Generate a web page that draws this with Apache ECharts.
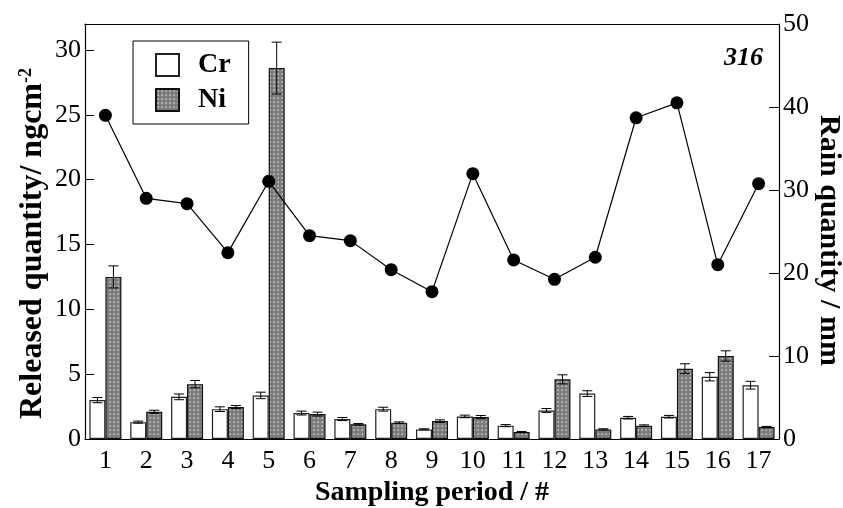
<!DOCTYPE html>
<html>
<head>
<meta charset="utf-8">
<script src="https://cdn.jsdelivr.net/npm/echarts@6/dist/echarts.min.js"></script>
<style>html,body{margin:0;padding:0;background:#fff}#c{width:843px;height:508px}</style>
</head>
<body>
<div id="c"></div>
<script>
const categories = ['1','2','3','4','5','6','7','8','9','10','11','12','13','14','15','16','17'];
const crValues = [3.0,1.3,3.25,2.3,3.36,2.0,1.54,2.3,0.74,1.74,1.03,2.2,3.5,1.64,1.72,4.8,4.15];
const crErrors = [0.2,0.08,0.22,0.18,0.25,0.15,0.12,0.15,0.05,0.1,0.08,0.15,0.22,0.1,0.1,0.32,0.3];
const niValues = [12.5,2.1,4.23,2.46,28.6,1.92,1.13,1.26,1.38,1.69,0.54,4.6,0.74,1.03,5.42,6.4,0.92];
const niErrors = [0.85,0.12,0.28,0.12,2.0,0.15,0.06,0.06,0.1,0.12,0.04,0.35,0.05,0.06,0.38,0.4,0.05];
const rainValues = [39.0,29.0,28.35,22.45,31.05,24.5,23.9,20.4,17.75,31.97,21.57,19.24,21.9,38.7,40.5,21.0,30.76];
const leftTicks = {min:0, max:32, interval:5};
const rightTicks = {min:0, max:50, interval:10};

const FONT = '"Liberation Serif", "Times New Roman", serif';
const BAR_W = 16;

function makePattern(){
  const c = document.createElement('canvas');
  c.width = 4; c.height = 4;
  const g = c.getContext('2d');
  g.fillStyle = '#7c7c7c'; g.fillRect(0,0,4,4);
  g.fillStyle = '#b4b4b4'; g.fillRect(1,1,2,2);
  g.fillStyle = '#8a8a8a'; g.fillRect(1,1,1,1);
  return c;
}
const niFill = {image: makePattern(), repeat: 'repeat'};

function errSeries(values, errors, side){
  return {
    type: 'custom',
    xAxisIndex: 0, yAxisIndex: 0,
    z: 5,
    silent: true,
    data: values.map((v,i)=>[i, v, errors[i]]),
    renderItem: function(params, api){
      const i = api.value(0), v = api.value(1), e = api.value(2);
      const off = side * BAR_W/2;
      const top = api.coord([i, v+e]);
      const bot = api.coord([i, v-e]);
      const x = top[0] + off;
      const cap = 5;
      const st = {stroke:'#000', lineWidth:1};
      return {type:'group', children:[
        {type:'line', shape:{x1:x,y1:top[1],x2:x,y2:bot[1]}, style:st},
        {type:'line', shape:{x1:x-cap,y1:top[1],x2:x+cap,y2:top[1]}, style:st},
        {type:'line', shape:{x1:x-cap,y1:bot[1],x2:x+cap,y2:bot[1]}, style:st}
      ]};
    }
  };
}

const chart = echarts.init(document.getElementById('c'), null, {renderer:'canvas'});
chart.setOption({
  animation: false,
  backgroundColor: '#fff',
  textStyle: {fontFamily: FONT},
  grid: {left:85, right:64, top:24, bottom:69, containLabel:false, outerBoundsMode:'none'},
  legend: {
    data: ['Cr','Ni'],
    orient: 'vertical',
    left: 133, top: 41,
    backgroundColor: '#fff',
    borderColor: '#000', borderWidth: 1,
    padding: [10, 18, 10, 22],
    icon: 'rect',
    itemWidth: 23, itemHeight: 22, itemGap: 7,
    textStyle: {fontFamily: FONT, fontSize: 28, fontWeight: 'bold', color: '#000', padding:[0,0,0,14]}
  },
  graphic: [{
    type: 'text', right: 80, top: 45,
    style: {text: '316', font: 'italic bold 26px ' + FONT, fill: '#000'}
  }],
  xAxis: [{
    type: 'category', data: categories, position: 'bottom',
    axisLine: {onZero:false, lineStyle:{color:'#000', width:1.2}},
    axisTick: {inside:true, length:6, lineStyle:{color:'#000'}},
    axisLabel: {fontFamily: FONT, fontSize: 26, color:'#000', margin: 9},
    name: 'Sampling period / #', nameLocation: 'middle', nameGap: 37,
    nameTextStyle: {fontFamily: FONT, fontSize: 28, fontWeight:'bold', color:'#000'}
  },{
    type: 'category', data: categories, position: 'top',
    axisLine: {onZero:false, lineStyle:{color:'#000', width:1.2}},
    axisTick: {inside:true, length:8, lineStyle:{color:'#000'}},
    axisLabel: {show:false}
  }],
  yAxis: [{
    type: 'value', position: 'left',
    min: leftTicks.min, max: leftTicks.max, interval: leftTicks.interval,
    splitLine: {show:false},
    axisLine: {show:true, onZero:false, lineStyle:{color:'#000', width:1.2}},
    axisTick: {show:true, inside:true, length:9, lineStyle:{color:'#000'}},
    axisLabel: {fontFamily: FONT, fontSize: 26, color:'#000', margin: 4, showMaxLabel:false},
    name: 'Released quantity/ ngcm{sup|-2}', nameLocation: 'middle', nameGap: 36, nameMoveOverlap: false,
    nameTextStyle: {fontFamily: FONT, fontSize: 32, fontWeight:'bold', color:'#000', padding:[0,24,0,0],
      rich: {sup: {fontFamily: FONT, fontSize: 18, fontWeight:'bold', color:'#000', verticalAlign:'top', padding:[0,0,13,0]}}}
  },{
    type: 'value', position: 'right',
    min: rightTicks.min, max: rightTicks.max, interval: rightTicks.interval,
    splitLine: {show:false},
    axisLine: {show:true, onZero:false, lineStyle:{color:'#000', width:1.2}},
    axisTick: {show:true, inside:true, length:10, lineStyle:{color:'#000'}},
    axisLabel: {fontFamily: FONT, fontSize: 26, color:'#000', margin: 4},
    name: 'Rain quantity / mm', nameLocation: 'middle', nameGap: 35, nameRotate: -90, nameMoveOverlap: false,
    nameTextStyle: {fontFamily: FONT, fontSize: 30, fontWeight:'bold', color:'#000', padding:[0,0,0,18]}
  }],
  series: [{
    name: 'Cr', type: 'bar', data: crValues, barWidth: BAR_W, barGap: '0%',
    itemStyle: {color:'#fff', borderColor:'#222', borderWidth:1.2}
  },{
    name: 'Ni', type: 'bar', data: niValues, barWidth: BAR_W, barGap: '0%',
    itemStyle: {color: niFill, borderColor:'#111', borderWidth:1.2}
  },
  errSeries(crValues, crErrors, -1),
  errSeries(niValues, niErrors, 1),
  {
    name: 'Rain', type: 'line', yAxisIndex: 1, data: rainValues, z: 10,
    symbol: 'circle', symbolSize: 13,
    lineStyle: {color:'#000', width:1.2},
    itemStyle: {color:'#000'}
  }]
});
</script>
</body>
</html>
